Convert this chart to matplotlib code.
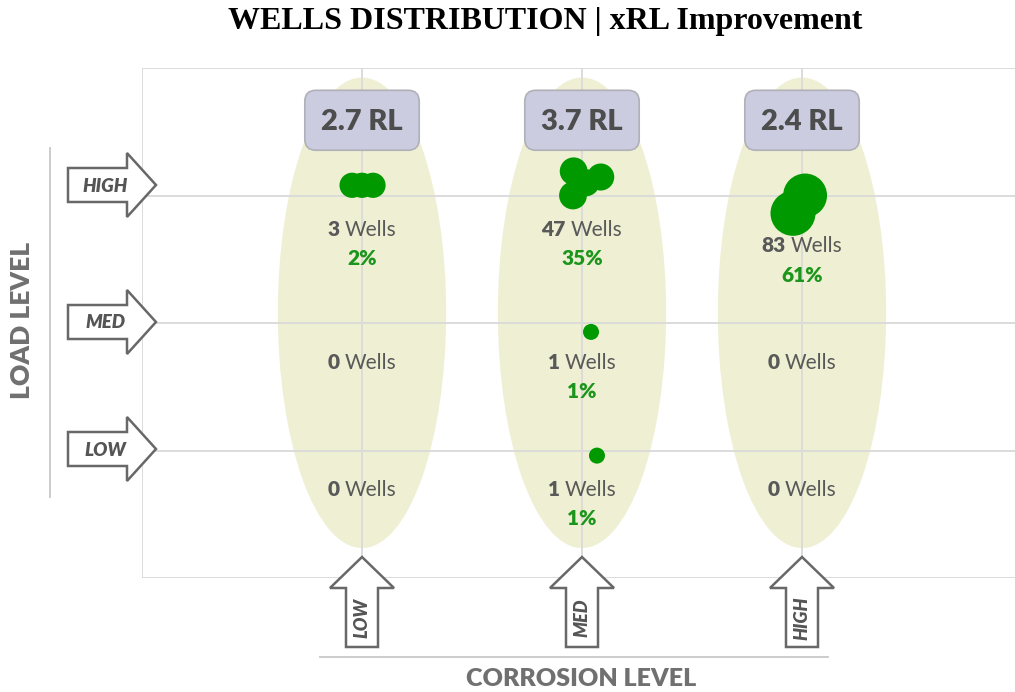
import matplotlib
matplotlib.use('Agg')
import matplotlib.pyplot as plt
from matplotlib.patches import Ellipse, FancyBboxPatch, Polygon
from matplotlib.offsetbox import TextArea, HPacker, AnnotationBbox

plt.rcParams['font.family'] = ['Lato', 'DejaVu Sans']

# ------------------------------ Data ------------------------------------------
levels = ['LOW', 'MED', 'HIGH']
rl_values = [2.7, 3.7, 2.4]                     # xRL improvement per corrosion level

# wells per cell, rows = load level (LOW, MED, HIGH), cols = corrosion level
wells = [[0, 1, 0],
         [0, 1, 0],
         [3, 47, 83]]
share = [[None, '1%', None],
         [None, '1%', None],
         ['2%', '35%', '61%']]

# individual bubbles (corrosion, load, size)
bub_x = [0.955, 1.0, 1.05, 1.962, 2.085, 1.959, 2.018, 2.041, 2.068, 3.014, 2.959]
bub_y = [3.08, 3.08, 3.08, 3.19, 3.145, 3.0, 3.10, 1.93, 0.96, 3.0, 2.86]
bub_s = [330, 330, 330, 400, 380, 400, 380, 133, 133, 1000, 1050]

# ------------------------------ Style -----------------------------------------
GRID = '#D9D9D9'
TXT = '#595959'
GREEN = '#009A00'
GREEN_TXT = '#1B951B'
W, H = 1015, 692

fig = plt.figure(figsize=(W / 100, H / 100), dpi=100)
ax = fig.add_axes([142 / W, (H - 578) / H, (W - 142) / W, (578 - 68) / H])
ax.set_xlim(0, (W - 142) / 220)
ax.set_ylim(0, 4)
ax.set_xticks([0, 1, 2, 3])
ax.set_yticks([0, 1, 2, 3, 4])
ax.grid(True, color=GRID, linewidth=1.3)
ax.set_axisbelow(True)
ax.tick_params(length=0, labelbottom=False, labelleft=False)
for sp in ax.spines.values():
    sp.set_visible(False)

# column ellipses
for i in range(3):
    ax.add_patch(Ellipse((i + 1, 2.08), 0.765, 3.69, facecolor='#EFEFD3',
                         edgecolor='none', zorder=0.2))

# RL boxes
for i, v in enumerate(rl_values):
    bw, bh = 0.52, 0.47
    ax.add_patch(FancyBboxPatch((i + 1 - bw / 2, 3.59 - bh / 2), bw, bh,
                                boxstyle='round,pad=0,rounding_size=0.05',
                                mutation_aspect=220 / 127.5,
                                facecolor='#CBCCDF', edgecolor='#B0B0B8',
                                linewidth=1.2, zorder=3))
    ax.text(i + 1, 3.58, f'{v} RL', ha='center', va='center', fontsize=21,
            fontweight='heavy', color='#4D4D4D', zorder=4)

# bubbles
ax.scatter(bub_x, bub_y, s=bub_s, color=GREEN, edgecolors='none', zorder=3)

# cell labels
for r in range(3):
    for c in range(3):
        ly = r + 1 - (0.27 if r == 2 else 0.31)
        if r == 2 and c == 2:
            ly = r + 1 - 0.40
        pk = HPacker(children=[
            TextArea(str(wells[r][c]), textprops=dict(fontsize=15, fontweight='heavy', color=TXT)),
            TextArea('Wells', textprops=dict(fontsize=15, color=TXT))],
            sep=3.5, align='baseline', pad=0)
        ax.add_artist(AnnotationBbox(pk, (c + 1, ly), frameon=False,
                                     box_alignment=(0.5, 0.5), zorder=4))
        if share[r][c]:
            ax.text(c + 1, ly - 0.225, share[r][c], ha='center', va='center',
                    fontsize=15, fontweight='heavy', color=GREEN_TXT, zorder=4)

# ------------------------------ Decorations (pixel coords) ---------------------
ov = fig.add_axes([0, 0, 1, 1])
ov.set_xlim(0, W)
ov.set_ylim(H, 0)
ov.axis('off')
ov.patch.set_visible(False)

ARROW_EC = '#686868'
# load-level arrows (pointing right)
for lab, cy in zip(['HIGH', 'MED', 'LOW'], [185, 322, 449]):
    x0, xb, tip = 68, 127, 156
    pts = [(x0, cy - 17), (xb, cy - 17), (xb, cy - 32), (tip, cy),
           (xb, cy + 32), (xb, cy + 17), (x0, cy + 17)]
    ov.add_patch(Polygon(pts, closed=True, facecolor='white', edgecolor=ARROW_EC,
                         linewidth=1.8, joinstyle='miter'))
    ov.text(105, cy + 1, lab, ha='center', va='center', fontsize=13.5,
            fontstyle='italic', fontweight='heavy', color='#555555')

# corrosion-level arrows (pointing up)
for lab, cx in zip(levels, [362, 582, 802]):
    ty, yb, bot = 557, 588, 647
    pts = [(cx - 16, bot), (cx - 16, yb), (cx - 32, yb), (cx, ty),
           (cx + 32, yb), (cx + 16, yb), (cx + 16, bot)]
    ov.add_patch(Polygon(pts, closed=True, facecolor='white', edgecolor=ARROW_EC,
                         linewidth=1.8, joinstyle='miter'))
    ov.text(cx, 618, lab, ha='center', va='center', rotation=90, fontsize=13,
            fontstyle='italic', fontweight='heavy', color='#555555')

ov.plot([50, 50], [148, 497], color='#C8C8C8', linewidth=1.3)
ov.plot([320, 828], [657, 657], color='#C8C8C8', linewidth=1.3)

ov.text(22, 320, 'LOAD LEVEL', rotation=90, ha='center', va='center',
        fontsize=19, fontweight='heavy', color='#707070')
ov.text(581, 679, 'CORROSION LEVEL', ha='center', va='center',
        fontsize=18, fontweight='heavy', color='#707070')
ov.text(545, 22, 'WELLS DISTRIBUTION | xRL Improvement', ha='center', va='center',
        fontsize=23, fontweight='bold', family='Liberation Serif', color='black')

fig.savefig('out.png', dpi=100)
